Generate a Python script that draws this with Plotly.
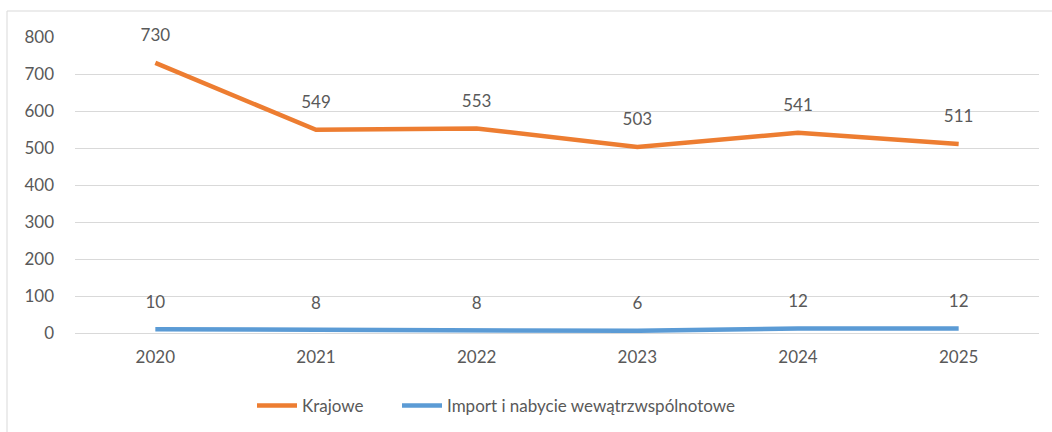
import plotly.graph_objects as go

years = ["2020", "2021", "2022", "2023", "2024", "2025"]
krajowe = [730, 549, 553, 503, 541, 511]
import_wew = [10, 8, 8, 6, 12, 12]
series_names = ["Krajowe", "Import i nabycie wewątrzwspólnotowe"]
y_ticks = [0, 100, 200, 300, 400, 500, 600, 700, 800]

FONT = "Lato"
TXT = "#595959"
colors = ["#ED7D31", "#5B9BD5"]
legend_ids = ["legend", "legend2"]

L, R, T, B = 75, 13, 37, 99
PW = 1052 - L - R
PH = 432 - T - B

fig = go.Figure()
for name, vals, c, lg in zip(series_names, [krajowe, import_wew], colors, legend_ids):
    fig.add_trace(go.Scatter(x=years, y=vals, name=name, mode="lines+markers+text",
                             line=dict(color=c, width=4.5),
                             marker=dict(size=26, color="rgba(0,0,0,0)"),
                             text=[str(v) for v in vals], textposition="top center",
                             textfont=dict(family=FONT, size=17, color=TXT),
                             cliponaxis=False, legend=lg))

def leg(left_px):
    return dict(orientation="h", x=(left_px - L) / PW, xanchor="left",
                y=(333 - 406) / PH, yanchor="middle",
                font=dict(family=FONT, size=17, color=TXT), itemwidth=40,
                bgcolor="rgba(0,0,0,0)")

fig.update_layout(
    width=1052, height=432,
    margin=dict(l=L, r=R, t=T, b=B, autoexpand=False),
    paper_bgcolor="white", plot_bgcolor="white",
    font=dict(family=FONT, size=17, color=TXT),
    showlegend=True,
    legend=leg(252),
    legend2=leg(397),
    xaxis=dict(type="category", range=[-0.5, 5.5], showgrid=False, zeroline=False,
               showline=False, ticks="", ticklabelstandoff=12,
               tickfont=dict(family=FONT, size=17, color=TXT)),
    yaxis=dict(range=[0, 800], tickvals=y_ticks, showgrid=True, gridcolor="#d9d9d9",
               gridwidth=1, zeroline=True, zerolinecolor="#d9d9d9", zerolinewidth=1,
               showline=False, ticks="", ticklabelstandoff=20,
               tickfont=dict(family=FONT, size=17, color=TXT)),
    shapes=[dict(type="rect", xref="paper", yref="paper",
                 x0=(7 - L) / PW, x1=1.2, y0=-0.6, y1=(333 - 11) / PH,
                 line=dict(color="#d9d9d9", width=1), fillcolor="rgba(0,0,0,0)",
                 layer="below")],
)

fig.write_html("out.html", config={"displayModeBar": False},
               post_script="document.body.style.margin='0';")
